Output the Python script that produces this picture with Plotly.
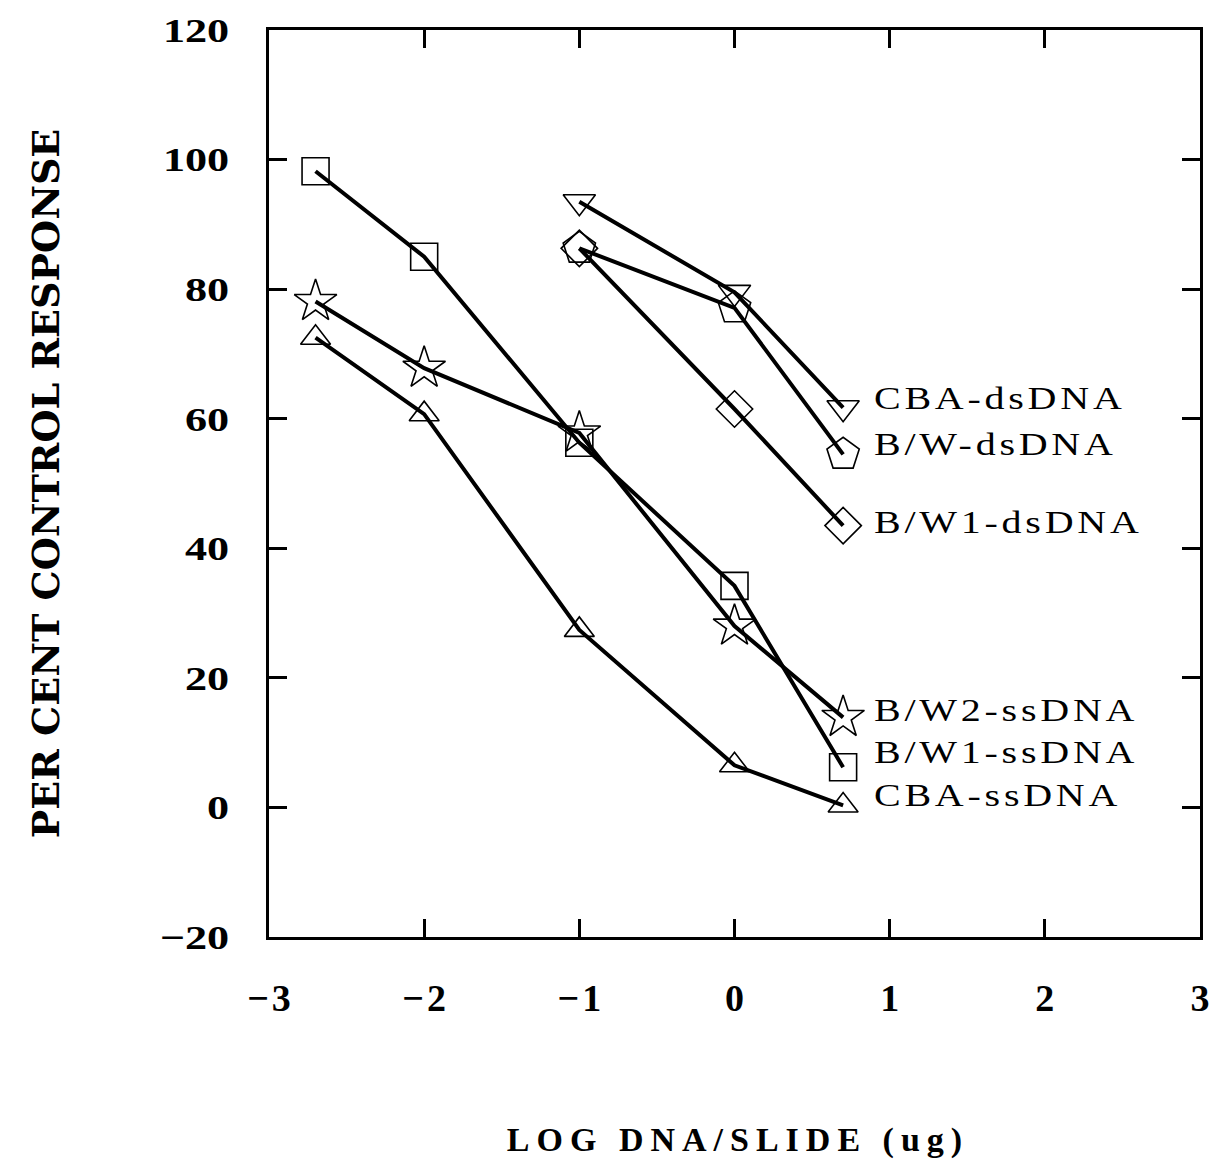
import plotly.graph_objects as go

# Log10 of DNA per slide (ug): 0.002, 0.01, 0.1, 1, 5
log_dna_full = [-2.7, -2.0, -1.0, 0.0, 0.7]
log_dna_short = [-1.0, 0.0, 0.7]

# Per cent control response for each antibody / DNA combination
cba_ds = [93.5, 79.5, 61.7]
bw_ds = [86.3, 77.1, 54.5]
bw1_ds = [86.3, 61.5, 43.5]
bw2_ss = [78.1, 67.8, 57.8, 28.0, 13.9]
bw1_ss = [98.2, 85.0, 56.3, 34.2, 6.2]
cba_ss = [72.5, 60.7, 27.4, 6.5, 0.3]

series_names = ["CBA-dsDNA", "B/W-dsDNA", "B/W1-dsDNA",
                "B/W2-ssDNA", "B/W1-ssDNA", "CBA-ssDNA"]

x_ticks = [-3, -2, -1, 0, 1, 2, 3]
y_ticks = [-20, 0, 20, 40, 60, 80, 100, 120]

# name, x, y, marker symbol, marker size, vertical nudge of the end label (px)
series = [
    (series_names[0], log_dna_short, cba_ds, "triangle-down-open", 28, 10),
    (series_names[1], log_dna_short, bw_ds, "pentagon-open", 34, 10),
    (series_names[2], log_dna_short, bw1_ds, "diamond-open", 28, 4),
    (series_names[3], log_dna_full, bw2_ss, "star-open", 32, 7),
    (series_names[4], log_dna_full, bw1_ss, "square-open", 27, 15),
    (series_names[5], log_dna_full, cba_ss, "triangle-up-open", 26, 10),
]

fig = go.Figure()
annotations = []
for name, xs, ys, symbol, msize, label_shift in series:
    fig.add_trace(go.Scatter(
        x=xs, y=ys, name=name, mode="lines+markers",
        line=dict(color="black", width=4),
        marker=dict(symbol=symbol, size=msize, color="black",
                    line=dict(color="black", width=1.6)),
        showlegend=False,
    ))
    annotations.append(dict(
        x=xs[-1], y=ys[-1], xref="x", yref="y", text=name,
        showarrow=False, xanchor="left", yanchor="middle",
        xshift=29, yshift=label_shift,
        font=dict(family="Liberation Serif", size=32, color="black"),
    ))

fig.update_layout(
    width=1222, height=1164,
    margin=dict(l=269, r=18, t=28, b=227),
    paper_bgcolor="white", plot_bgcolor="white",
    annotations=annotations,
    xaxis=dict(
        range=[-3, 3], tickvals=x_ticks, showgrid=False, zeroline=False,
        showline=True, linewidth=3, linecolor="black", mirror="ticks",
        ticks="inside", ticklen=18, tickwidth=3, tickcolor="black",
        tickfont=dict(family="Liberation Serif", size=38, color="black", weight="bold"),
        ticklabelstandoff=25,
        title=dict(text="LOG DNA/SLIDE (ug)", standoff=110,
                   font=dict(family="Liberation Serif", size=34,
                             color="black", weight="bold")),
    ),
    yaxis=dict(
        range=[-20, 120], tickvals=y_ticks, showgrid=False, zeroline=False,
        showline=True, linewidth=3, linecolor="black", mirror="ticks",
        ticks="inside", ticklen=18, tickwidth=3, tickcolor="black",
        tickfont=dict(family="Liberation Serif", size=34, color="black", weight="bold"),
        ticklabelstandoff=30,
        title=dict(text="PER CENT CONTROL RESPONSE", standoff=105,
                   font=dict(family="DejaVu Serif", size=38,
                             color="black", weight="bold")),
    ),
)

# Wide typeset look: letter spacing plus horizontal stretch, each label
# keeping its anchor edge (left, right or centre) where Plotly put it.
spacing_js = """
var gd = document.getElementsByClassName('plotly-graph-div')[0];
function widen(sel, px, sx, mode) {
  gd.querySelectorAll(sel).forEach(function(t) {
    if (t.getAttribute('data-widened')) return;
    var b0 = t.getBBox();
    t.style.letterSpacing = px + 'px';
    var b1 = t.getBBox();
    var a, e;
    if (mode === 'left') { a = b0.x; e = b1.x; }
    else if (mode === 'right') { a = b0.x + b0.width; e = b1.x + b1.width - px; }
    else { a = b0.x + b0.width / 2; e = b1.x + (b1.width - px) / 2; }
    var tr = t.getAttribute('transform') || '';
    t.setAttribute('transform', (tr + ' translate(' + a + ',0) scale(' + sx + ',1) translate(' + (-e) + ',0)').trim());
    t.setAttribute('data-widened', '1');
  });
}
function widenAll() {
  widen('.g-xtitle text', 7, 1, 'center');
  widen('.xtick text', 3, 1, 'center');
  widen('.ytick text', 0, 1.3, 'right');
  widen('.annotation-text', 3, 1.25, 'left');
}
widenAll();
gd.on('plotly_afterplot', widenAll);
"""

fig.write_html("out.html", post_script=spacing_js)
